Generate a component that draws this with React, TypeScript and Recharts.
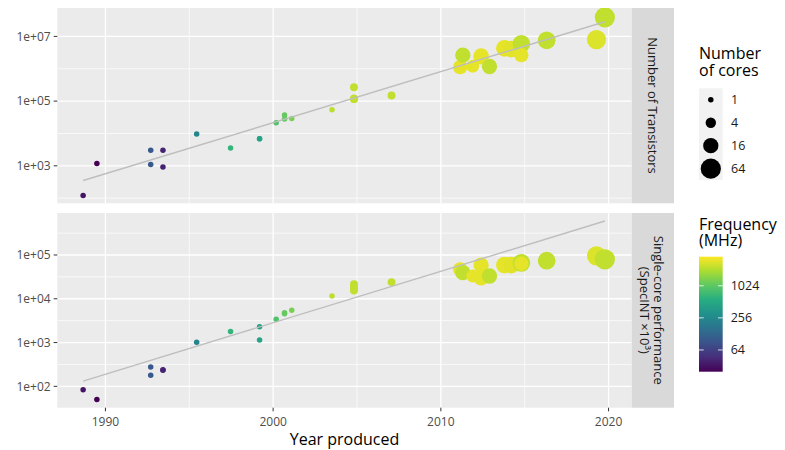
import React from 'react';
import { ScatterChart, Scatter, XAxis, YAxis, CartesianGrid } from 'recharts';

// ---- data ----
const years = [
  1988.67, 1989.49, 1992.70, 1992.70, 1993.43, 1993.43, 1995.44, 1997.46, 1999.19, 1999.19,
  2000.18, 2000.68, 2000.68, 2001.11, 2003.51, 2004.82, 2004.82, 2004.82, 2007.06,
  2011.15, 2011.31, 2011.90, 2012.40, 2012.40, 2012.90, 2013.79, 2014.19, 2014.80, 2014.80,
  2016.31, 2019.28, 2019.78,
];
const transistors = [
  120, 1180, 3020, 1100, 3020, 910, 9550, 3550, 6900, 6900,
  21400, 37200, 28200, 28800, 53700, 269000, 115000, 120000, 148000,
  1120000, 2630000, 1200000, 2510000, 2340000, 1175000, 4270000, 4070000, 5890000, 2630000,
  7590000, 7940000, 38900000,
];
const specint = [
  83, 50, 275, 178, 240, 234, 1020, 1780, 2290, 1150,
  3390, 4790, 4570, 5500, 11500, 21400, 17800, 15500, 24000,
  47100, 39400, 33100, 58900, 30200, 33100, 58900, 58900, 66100, 63100,
  74100, 95500, 79400,
];
const cores = [
  1, 1, 1, 1, 1, 1, 1, 1, 1, 1,
  1, 1, 1, 1, 1, 2, 2, 2, 2,
  12, 16, 8, 16, 16, 16, 24, 24, 32, 12,
  32, 48, 64,
];
const freqMHz = [
  33, 25, 100, 100, 40, 40, 233, 650, 450, 450,
  900, 1100, 1100, 1300, 2200, 2300, 2300, 2300, 2300,
  3000, 2300, 3000, 3000, 3000, 2300, 3000, 2950, 2300, 3000,
  2300, 2800, 2300,
];

// fitted trend (end points of the grey line)
const fitYears = [1988.67, 2019.78];
const fitTransistors = [351, 28400000];
const fitSpecint = [132, 598000];

// axes / ticks
const xMajor = [1990, 2000, 2010, 2020];
const xMinor = [1995, 2005, 2015];
const topMajor = [1e3, 1e5, 1e7];
const topMinor = [1e2, 1e4, 1e6];
const bottomMajor = [1e2, 1e3, 1e4, 1e5];
const bottomMinor = [316.2, 3162, 31623, 316228];
const sizeBreaks = [1, 4, 16, 64];
const freqBreaks = [64, 256, 1024];

const cpus = years.map((year, i) => ({
  year,
  transistors: transistors[i],
  specint: specint[i],
  cores: cores[i],
  freq: freqMHz[i],
}));
const fitTop = fitYears.map((year, i) => ({ year, transistors: fitTransistors[i] }));
const fitBottom = fitYears.map((year, i) => ({ year, specint: fitSpecint[i] }));

// ---- scales for colour and size ----
const VIRIDIS = ['#440154', '#472D7B', '#3B528B', '#2C728E', '#21908C', '#27AD81', '#5DC863', '#AADC32', '#FDE725'];
const hex = (h: string) => [1, 3, 5].map((k) => parseInt(h.slice(k, k + 2), 16));
const viridis = (t: number) => {
  const tt = Math.max(0, Math.min(1, t)) * (VIRIDIS.length - 1);
  const i = Math.min(VIRIDIS.length - 2, Math.floor(tt));
  const f = tt - i;
  const a = hex(VIRIDIS[i]);
  const b = hex(VIRIDIS[i + 1]);
  const c = a.map((v, k) => Math.round(v + (b[k] - v) * f));
  return `rgb(${c[0]},${c[1]},${c[2]})`;
};
const FREQ_MIN = Math.log2(25);
const FREQ_MAX = Math.log2(3600);
const freqT = (f: number) => (Math.log2(f) - FREQ_MIN) / (FREQ_MAX - FREQ_MIN);
const colorFor = (f: number) => viridis(freqT(f));
const radiusFor = (c: number) => 2.75 + 2.45 * (Math.log(c) / Math.log(4));

const FONT = '"Open Sans", "Noto Sans", sans-serif';
const sci = (v: number) => {
  const e = Math.round(Math.log10(v));
  return `1e+${String(e).padStart(2, '0')}`;
};

const Dot = (p: any) => {
  const d = p.payload;
  if (p.cx == null || p.cy == null) return <g />;
  return <circle cx={p.cx} cy={p.cy} r={radiusFor(d.cores)} fill={colorFor(d.freq)} />;
};
const Empty = () => <g />;

const PLOT_LEFT = 57.3;
const PLOT_RIGHT = 631.7;
const X_DOMAIN: [number, number] = [1987.13, 2021.38];

const tickStyle = { fill: '#4D4D4D', fontSize: 12, fontFamily: FONT };

export default function App() {
  const barX = 699;
  const barW = 23.7;
  const barTop = 256.7;
  const barBottom = 371.7;
  const barY = (v: number) => barBottom - freqT(v) * (barBottom - barTop);
  const gradStops = VIRIDIS.map((c, i) => ({ off: i / (VIRIDIS.length - 1), c }));
  return (
    <div style={{ position: 'absolute', left: 0, top: 0, width: 785, height: 450, background: '#fff', overflow: 'hidden', fontFamily: FONT }}>
      <div style={{ position: 'absolute', left: 0, top: 0 }}>
        <ScatterChart width={785} height={215} margin={{ top: 8, right: 785 - PLOT_RIGHT, bottom: 11.7, left: 0 }}>
          <CartesianGrid fill="#EBEBEB" stroke="#FFFFFF" strokeWidth={0.7} horizontalValues={topMinor} verticalValues={xMinor} />
          <CartesianGrid fill="none" stroke="#FFFFFF" strokeWidth={1.3} horizontalValues={topMajor} verticalValues={xMajor} />
          <XAxis type="number" dataKey="year" domain={X_DOMAIN} allowDataOverflow hide ticks={xMajor} />
          <YAxis
            type="number"
            dataKey="transistors"
            scale="log"
            domain={[69.3, 75500000]}
            allowDataOverflow
            ticks={topMajor}
            tickFormatter={sci}
            width={PLOT_LEFT}
            axisLine={false}
            tickLine={{ stroke: '#333333' }}
            tickSize={3.6}
            tickMargin={3}
            tick={tickStyle}
            interval={0}
          />
          <Scatter data={cpus} shape={Dot} isAnimationActive={false} />
          <Scatter data={fitTop} shape={Empty} line={{ stroke: '#BEBEBE', strokeWidth: 1.4 }} isAnimationActive={false} />
        </ScatterChart>
      </div>
      <div style={{ position: 'absolute', left: 0, top: 205 }}>
        <ScatterChart width={785} height={245} margin={{ top: 8, right: 785 - PLOT_RIGHT, bottom: 12.3, left: 0 }}>
          <CartesianGrid fill="#EBEBEB" stroke="#FFFFFF" strokeWidth={0.7} horizontalValues={bottomMinor} verticalValues={xMinor} />
          <CartesianGrid fill="none" stroke="#FFFFFF" strokeWidth={1.3} horizontalValues={bottomMajor} verticalValues={xMajor} />
          <XAxis
            type="number"
            dataKey="year"
            domain={X_DOMAIN}
            allowDataOverflow
            ticks={xMajor}
            height={30}
            axisLine={false}
            tickLine={{ stroke: '#333333' }}
            tickSize={3.6}
            tickMargin={6.5}
            tick={tickStyle}
            interval={0}
          />
          <YAxis
            type="number"
            dataKey="specint"
            scale="log"
            domain={[32.5, 910000]}
            allowDataOverflow
            ticks={bottomMajor}
            tickFormatter={sci}
            width={PLOT_LEFT}
            axisLine={false}
            tickLine={{ stroke: '#333333' }}
            tickSize={3.6}
            tickMargin={3}
            tick={tickStyle}
            interval={0}
          />
          <Scatter data={cpus} shape={Dot} isAnimationActive={false} />
          <Scatter data={fitBottom} shape={Empty} line={{ stroke: '#BEBEBE', strokeWidth: 1.4 }} isAnimationActive={false} />
        </ScatterChart>
      </div>
      <svg width={785} height={450} style={{ position: 'absolute', left: 0, top: 0, pointerEvents: 'none' }} fontFamily={FONT}>
        <defs>
          <linearGradient id="viridisBar" x1="0" y1="1" x2="0" y2="0">
            {gradStops.map((s) => (
              <stop key={s.off} offset={s.off} stopColor={s.c} />
            ))}
          </linearGradient>
        </defs>
        {/* facet strips */}
        <rect x={PLOT_RIGHT} y={8} width={42.3} height={195.3} fill="#D9D9D9" />
        <rect x={PLOT_RIGHT} y={213} width={42.3} height={194.7} fill="#D9D9D9" />
        <text transform="translate(653,105.5) rotate(90)" textAnchor="middle" dominantBaseline="central" fontSize={13} fill="#1A1A1A">
          Number of Transistors
        </text>
        <text transform="translate(653,310.3) rotate(90)" textAnchor="middle" dominantBaseline="central" fontSize={13} fill="#1A1A1A">
          <tspan x={0} y={-5.8}>Single-core performance</tspan>
          <tspan x={0} y={7.8}>(SpecINT ×10³)</tspan>
        </text>
        {/* x axis title */}
        <text x={(PLOT_LEFT + PLOT_RIGHT) / 2} y={445} textAnchor="middle" fontSize={16} fill="#000">
          Year produced
        </text>
        {/* size legend */}
        <text fontSize={16} fill="#000">
          <tspan x={699} y={59.3}>Number</tspan>
          <tspan x={699} y={75.5}>of cores</tspan>
        </text>
        <rect x={699} y={88.3} width={23.7} height={91.7} fill="#F2F2F2" />
        {sizeBreaks.map((c, i) => {
          const cy = 99.8 + i * 22.95;
          return (
            <g key={c}>
              <circle cx={710.8} cy={cy} r={radiusFor(c)} fill="#000" />
              <text x={731} y={cy} dominantBaseline="central" fontSize={12.5} fill="#1A1A1A">{c}</text>
            </g>
          );
        })}
        {/* colour legend */}
        <text fontSize={16} fill="#000">
          <tspan x={699} y={229.5}>Frequency</tspan>
          <tspan x={699} y={246}>(MHz)</tspan>
        </text>
        <rect x={barX} y={barTop} width={barW} height={barBottom - barTop} fill="url(#viridisBar)" />
        {freqBreaks.map((f) => {
          const y = barY(f);
          return (
            <g key={f}>
              <line x1={barX} x2={barX + 4.7} y1={y} y2={y} stroke="#FFFFFF" strokeOpacity={0.8} strokeWidth={1} />
              <line x1={barX + barW - 4.7} x2={barX + barW} y1={y} y2={y} stroke="#FFFFFF" strokeOpacity={0.8} strokeWidth={1} />
              <text x={730.7} y={y} dominantBaseline="central" fontSize={12.5} fill="#1A1A1A">{f}</text>
            </g>
          );
        })}
      </svg>
    </div>
  );
}
